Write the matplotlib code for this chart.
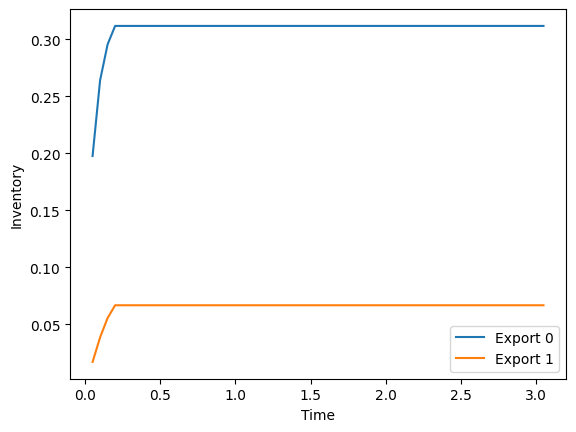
import numpy as np
import matplotlib
matplotlib.use("Agg")
import matplotlib.pyplot as plt

# time grid: 0.05 .. 3.05
time = np.round(np.arange(1, 62) * 0.05, 2)

export0 = [0.1976, 0.2640, 0.2955, 0.3117] + [0.3117] * 57
export1 = [0.0170, 0.0385, 0.0555, 0.0667] + [0.0667] * 57

fig, ax = plt.subplots(figsize=(6.4, 4.8), dpi=100)
ax.plot(time, export0, label="Export 0")
ax.plot(time, export1, label="Export 1")
ax.set_xlabel("Time")
ax.set_ylabel("Inventory")
ax.legend(loc="lower right")

fig.savefig("out.png", dpi=100, bbox_inches="tight")
